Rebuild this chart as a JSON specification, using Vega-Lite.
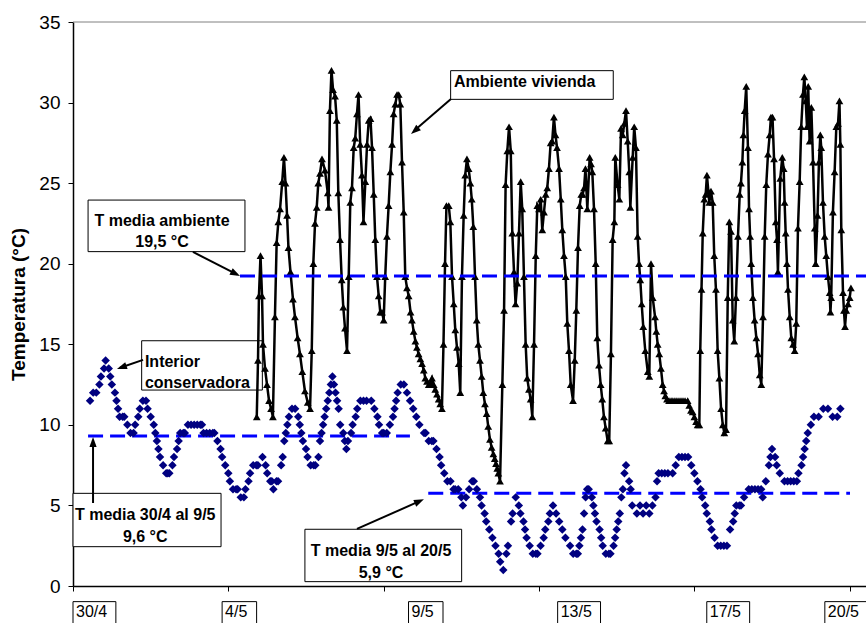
{
 "$schema": "https://vega.github.io/schema/vega-lite/v6.json",
 "width": 793,
 "height": 564,
 "autosize": {"type": "none"},
 "padding": {"left": 73, "top": 22, "right": 0, "bottom": 37},
 "background": "white",
 "config": {"view": {"stroke": null}, "font": "Liberation Sans"},
 "data": {"values": [{}]},
 "datasets": {
  "fechas": [{"fecha":"30/4","h":0},{"fecha":"4/5","h":96},{"fecha":"9/5","h":216},{"fecha":"13/5","h":312},{"fecha":"17/5","h":408},{"fecha":"20/5","h":484}],
  "medias": [{"periodo":"ambiente","desde":107.5,"hasta":510.5,"t":19.24},{"periodo":"30/4-9/5","desde":9.7,"hasta":216.9,"t":9.31},{"periodo":"9/5-20/5","desde":228.7,"hasta":500.2,"t":5.75}],
  "interior": [
{"h":11,"t":11.5},{"h":13,"t":12},{"h":15,"t":12},{"h":17,"t":12.5},{"h":18,"t":13},{"h":20,"t":13.5},{"h":21,"t":14},{"h":23,"t":13.5},{"h":24,"t":13},{"h":25,"t":12.5},{"h":27,"t":12},{"h":28,"t":11.5},{"h":29,"t":11},{"h":30,"t":10.5},{"h":32,"t":10.5},{"h":33,"t":10.5},{"h":35,"t":10},{"h":37,"t":9.5},{"h":39,"t":9.5},{"h":40,"t":10},{"h":42,"t":10.5},{"h":43,"t":11},{"h":45,"t":11.5},{"h":47,"t":11.5},{"h":48,"t":11},{"h":50,"t":10.5},{"h":52,"t":10},{"h":53,"t":9.5},{"h":54,"t":9},{"h":55,"t":8.5},{"h":56,"t":8},{"h":58,"t":7.5},{"h":60,"t":7},{"h":61,"t":7},{"h":62,"t":7},{"h":64,"t":7.5},{"h":65,"t":8},{"h":67,"t":8.5},{"h":68,"t":9},{"h":69,"t":9.5},{"h":71,"t":9.5},{"h":72,"t":9.5},{"h":74,"t":10},{"h":76,"t":10},{"h":78,"t":10},{"h":80,"t":10},{"h":82,"t":10},{"h":83,"t":10},{"h":84,"t":9.5},{"h":86,"t":9.5},{"h":88,"t":9.5},{"h":90,"t":9.5},{"h":91,"t":9.5},{"h":93,"t":9},{"h":95,"t":8.5},{"h":96,"t":8},{"h":98,"t":7.5},{"h":100,"t":7},{"h":101,"t":6.5},{"h":103,"t":6},{"h":105,"t":6},{"h":106,"t":6},{"h":108,"t":5.5},{"h":110,"t":5.5},{"h":111,"t":6},{"h":113,"t":6.5},{"h":114,"t":7},{"h":116,"t":7.5},{"h":118,"t":7.5},{"h":119,"t":7.5},{"h":122,"t":8},{"h":124,"t":7.5},{"h":125,"t":7},{"h":127,"t":6.5},{"h":128,"t":6.5},{"h":129,"t":6},{"h":131,"t":6.5},{"h":132,"t":6.5},{"h":134,"t":7.5},{"h":135,"t":8},{"h":136,"t":9},{"h":137,"t":9.5},{"h":138,"t":10},{"h":139,"t":10.5},{"h":141,"t":11},{"h":143,"t":11},{"h":145,"t":10.5},{"h":146,"t":10},{"h":147,"t":9.5},{"h":148,"t":9},{"h":150,"t":8.5},{"h":151,"t":8},{"h":153,"t":7.5},{"h":155,"t":7.5},{"h":156,"t":7.5},{"h":158,"t":8},{"h":159,"t":9},{"h":160,"t":9.5},{"h":161,"t":10},{"h":162,"t":10.5},{"h":163,"t":11},{"h":164,"t":11.5},{"h":165,"t":12},{"h":166,"t":12.5},{"h":167,"t":13},{"h":168,"t":12.5},{"h":169,"t":12},{"h":170,"t":11.5},{"h":171,"t":11},{"h":172,"t":10},{"h":174,"t":9.5},{"h":175,"t":9},{"h":176,"t":8.5},{"h":177,"t":9},{"h":179,"t":9.5},{"h":180,"t":10},{"h":182,"t":10.5},{"h":183,"t":11},{"h":185,"t":11.5},{"h":187,"t":11.5},{"h":189,"t":11.5},{"h":192,"t":11.5},{"h":194,"t":11},{"h":196,"t":10.5},{"h":197,"t":10},{"h":199,"t":9.5},{"h":200,"t":9.5},{"h":202,"t":9.5},{"h":204,"t":10},{"h":206,"t":10.5},{"h":207,"t":11},{"h":208,"t":11.5},{"h":209,"t":12},{"h":211,"t":12.5},{"h":213,"t":12.5},{"h":215,"t":12},{"h":217,"t":11.5},{"h":219,"t":11},{"h":221,"t":10.5},{"h":223,"t":10},{"h":226,"t":9.5},{"h":227,"t":9.5},{"h":229,"t":9},{"h":231,"t":9},{"h":232,"t":9},{"h":234,"t":8.5},{"h":236,"t":8},{"h":237,"t":7.5},{"h":239,"t":7},{"h":241,"t":6.5},{"h":243,"t":6.5},{"h":245,"t":6},{"h":246,"t":6},{"h":248,"t":6},{"h":250,"t":5.5},{"h":251,"t":5},{"h":253,"t":5.5},{"h":255,"t":6},{"h":257,"t":6.5},{"h":258,"t":6.5},{"h":260,"t":6},{"h":262,"t":5.5},{"h":263,"t":5},{"h":265,"t":4.5},{"h":266,"t":4},{"h":268,"t":3.5},{"h":270,"t":3},{"h":272,"t":2.5},{"h":274,"t":2},{"h":275,"t":1.5},{"h":277,"t":1},{"h":279,"t":2},{"h":280,"t":2.5},{"h":282,"t":4},{"h":283,"t":4.5},{"h":285,"t":5.5},{"h":287,"t":5},{"h":288,"t":4.5},{"h":290,"t":4},{"h":291,"t":3.5},{"h":292,"t":3},{"h":294,"t":2.5},{"h":296,"t":2},{"h":298,"t":2},{"h":299,"t":2},{"h":301,"t":2.5},{"h":303,"t":3},{"h":304,"t":3.5},{"h":306,"t":4},{"h":307,"t":4.5},{"h":309,"t":5},{"h":311,"t":4.5},{"h":313,"t":4},{"h":315,"t":3.5},{"h":317,"t":3},{"h":320,"t":2.5},{"h":322,"t":2},{"h":324,"t":2},{"h":325,"t":2},{"h":326,"t":2.5},{"h":327,"t":3},{"h":328,"t":3.5},{"h":329,"t":4.5},{"h":330,"t":5.5},{"h":331,"t":6},{"h":332,"t":6},{"h":334,"t":5.5},{"h":335,"t":5},{"h":336,"t":4.5},{"h":337,"t":4},{"h":339,"t":3.5},{"h":340,"t":3},{"h":341,"t":2.5},{"h":343,"t":2},{"h":345,"t":2},{"h":346,"t":2},{"h":348,"t":2.5},{"h":349,"t":3},{"h":350,"t":3.5},{"h":351,"t":4},{"h":352,"t":4.5},{"h":353,"t":5.5},{"h":354,"t":6},{"h":355,"t":7},{"h":356,"t":7.5},{"h":358,"t":6.5},{"h":359,"t":6},{"h":360,"t":5},{"h":363,"t":4.5},{"h":365,"t":5},{"h":367,"t":4.5},{"h":369,"t":5},{"h":371,"t":4.5},{"h":373,"t":5},{"h":375,"t":5.5},{"h":376,"t":6.5},{"h":377,"t":7},{"h":379,"t":7},{"h":381,"t":7},{"h":383,"t":7},{"h":386,"t":7},{"h":388,"t":7.5},{"h":390,"t":8},{"h":392,"t":8},{"h":394,"t":8},{"h":396,"t":8},{"h":398,"t":7.5},{"h":400,"t":7},{"h":402,"t":6.5},{"h":404,"t":6},{"h":405,"t":5.5},{"h":407,"t":5},{"h":408,"t":4.5},{"h":410,"t":4},{"h":411,"t":3.5},{"h":413,"t":3},{"h":415,"t":2.5},{"h":417,"t":2.5},{"h":419,"t":2.5},{"h":421,"t":2.5},{"h":423,"t":3.5},{"h":425,"t":4},{"h":426,"t":4.5},{"h":427,"t":5},{"h":429,"t":5},{"h":430,"t":5},{"h":432,"t":5.5},{"h":435,"t":6},{"h":437,"t":6},{"h":439,"t":6},{"h":441,"t":6},{"h":443,"t":6},{"h":444,"t":5.5},{"h":446,"t":6.5},{"h":448,"t":7.5},{"h":449,"t":8},{"h":450,"t":8.5},{"h":452,"t":8},{"h":453,"t":7.5},{"h":455,"t":7},{"h":458,"t":6.5},{"h":460,"t":6.5},{"h":462,"t":6.5},{"h":464,"t":6.5},{"h":466,"t":6.5},{"h":467,"t":7},{"h":469,"t":7.5},{"h":470,"t":8},{"h":471,"t":8.5},{"h":472,"t":9},{"h":473,"t":9.5},{"h":475,"t":10},{"h":477,"t":10.5},{"h":480,"t":10.5},{"h":483,"t":11},{"h":486,"t":11},{"h":489,"t":10.5},{"h":492,"t":10.5},{"h":494,"t":11}
  ],
  "ambiente": [
{"h":118.3,"t":10.5},{"h":119.1,"t":14},{"h":119.7,"t":18},{"h":120.7,"t":20.5},{"h":121.7,"t":18},{"h":122.3,"t":15},{"h":123.6,"t":13.5},{"h":124.9,"t":12.5},{"h":126.2,"t":11.5},{"h":127.5,"t":11},{"h":128.7,"t":10.5},
{"h":130.0,"t":16.7},{"h":131.1,"t":21.3},{"h":132.2,"t":22.6},{"h":133.3,"t":23.4},{"h":134.7,"t":25.1},{"h":135.8,"t":26.6},{"h":136.8,"t":25},{"h":137.8,"t":23},{"h":138.7,"t":21},{"h":140.0,"t":19.5},{"h":141.6,"t":17.8},{"h":142.9,"t":16.7},{"h":144.6,"t":15.4},{"h":146.1,"t":14.4},{"h":147.6,"t":13.3},{"h":149.3,"t":12.1},{"h":151.1,"t":11.4},{"h":152.6,"t":11.0},
{"h":153.7,"t":14.6},{"h":154.7,"t":20},{"h":155.8,"t":22.5},{"h":156.9,"t":23.5},{"h":157.9,"t":25},{"h":159.0,"t":25.6},{"h":160.3,"t":26.5},{"h":162.2,"t":25.8},{"h":164.0,"t":24.4},{"h":164.5,"t":23.5},{"h":165.4,"t":29.5},{"h":166.4,"t":32},{"h":167.4,"t":30.8},{"h":168.7,"t":30.4},{"h":169.8,"t":28.9},{"h":170.8,"t":24.4},{"h":171.9,"t":21.5},{"h":173.0,"t":19},{"h":174.0,"t":17.3},{"h":175.1,"t":16},{"h":176.4,"t":14.6},
{"h":177.5,"t":19.2},{"h":178.5,"t":23.8},{"h":179.6,"t":24.7},{"h":180.7,"t":27.2},{"h":181.7,"t":27.8},{"h":182.8,"t":29.3},{"h":183.8,"t":30.5},{"h":184.9,"t":27.4},{"h":186.0,"t":25.5},{"h":187.0,"t":22.6},{"h":188.2,"t":25.1},{"h":189.3,"t":27.4},{"h":190.4,"t":28.9},{"h":191.5,"t":29},{"h":192.5,"t":27.2},{"h":193.6,"t":24.3},{"h":194.6,"t":21.5},{"h":195.7,"t":19.2},{"h":196.8,"t":18},{"h":197.8,"t":17},{"h":198.9,"t":17},{"h":200.0,"t":16.5},
{"h":201.0,"t":19.2},{"h":202.1,"t":21.7},{"h":203.2,"t":23.6},{"h":204.3,"t":25.7},{"h":205.4,"t":27.4},{"h":206.4,"t":29.3},{"h":207.5,"t":29.9},{"h":208.6,"t":30.5},{"h":209.7,"t":30.5},{"h":210.7,"t":29.9},{"h":211.8,"t":26.3},{"h":212.9,"t":23.2},{"h":213.9,"t":19.2},{"h":215.0,"t":18.5},{"h":216.1,"t":18},{"h":217.3,"t":17},{"h":218.2,"t":16.5},{"h":219.3,"t":15.8},{"h":220.4,"t":15.2},{"h":221.4,"t":14.8},{"h":222.5,"t":14.4},{"h":223.6,"t":14.1},{"h":224.7,"t":13.8},{"h":225.8,"t":13.4},{"h":226.8,"t":12.9},{"h":227.9,"t":12.7},{"h":229.0,"t":12.5},{"h":230.0,"t":12.6},{"h":231.1,"t":12.9},{"h":232.2,"t":12.5},{"h":233.2,"t":12.2},{"h":234.3,"t":11.9},{"h":235.4,"t":11.6},{"h":236.4,"t":11.3},{"h":237.5,"t":11.0},
{"h":238.5,"t":15},{"h":239.5,"t":20},{"h":240.4,"t":23.6},{"h":241.9,"t":23.6},{"h":242.9,"t":22.6},{"h":244.0,"t":19.2},{"h":245.1,"t":17.5},{"h":246.1,"t":15.9},{"h":247.2,"t":14.8},{"h":248.3,"t":13.8},{"h":249.3,"t":12},
{"h":250.4,"t":19.2},{"h":251.5,"t":23},{"h":252.5,"t":25.5},{"h":253.6,"t":26.5},{"h":254.7,"t":25.9},{"h":255.8,"t":25},{"h":256.7,"t":24},{"h":257.7,"t":22.3},{"h":258.8,"t":19.2},{"h":259.9,"t":16.5},{"h":260.9,"t":15},{"h":262.0,"t":14},{"h":263.1,"t":13},{"h":264.1,"t":12},{"h":265.2,"t":11.3},{"h":266.3,"t":10.7},{"h":267.3,"t":9.9},{"h":268.4,"t":9.1},{"h":269.5,"t":8.6},{"h":270.6,"t":8.2},{"h":271.5,"t":7.9},{"h":272.3,"t":7.6},{"h":273.1,"t":7.3},{"h":273.8,"t":7},{"h":274.9,"t":6.5},
{"h":276.4,"t":12.5},{"h":277.5,"t":17.1},{"h":278.5,"t":24.9},{"h":279.6,"t":27},{"h":280.7,"t":28.5},{"h":281.8,"t":27},{"h":282.8,"t":21.9},{"h":283.9,"t":19.5},{"h":284.9,"t":17.5},{"h":286.0,"t":18.8},{"h":287.1,"t":21.9},{"h":288.2,"t":25.1},{"h":289.2,"t":23.4},{"h":290.3,"t":19.2},{"h":291.4,"t":15},{"h":292.4,"t":12.9},{"h":293.5,"t":12.2},{"h":294.6,"t":11.6},{"h":295.7,"t":10.5},
{"h":296.8,"t":15},{"h":297.9,"t":20.5},{"h":298.9,"t":23.6},{"h":300.0,"t":23.4},{"h":301.1,"t":24},{"h":302.1,"t":22.1},{"h":303.2,"t":23.2},{"h":304.3,"t":24.3},{"h":305.3,"t":24.7},{"h":306.4,"t":25.9},{"h":307.5,"t":27.5},{"h":308.5,"t":27.6},{"h":309.6,"t":29.1},{"h":310.6,"t":28},{"h":311.6,"t":27.2},{"h":312.9,"t":25.9},{"h":314.0,"t":24},{"h":315.0,"t":22.1},{"h":316.1,"t":20.5},{"h":317.2,"t":19.2},{"h":318.2,"t":16.3},{"h":319.3,"t":14.6},{"h":320.4,"t":12.5},{"h":321.9,"t":11.5},
{"h":323.0,"t":14},{"h":324.0,"t":17.1},{"h":325.1,"t":21},{"h":326.2,"t":23.6},{"h":327.2,"t":24.3},{"h":328.1,"t":24.3},{"h":329.0,"t":24.7},{"h":329.9,"t":25.9},{"h":331.1,"t":23.4},{"h":332.6,"t":26.6},{"h":333.5,"t":26.2},{"h":334.3,"t":25.7},{"h":335.4,"t":23.4},{"h":336.5,"t":20},{"h":337.5,"t":15.4},{"h":338.6,"t":13.7},{"h":339.7,"t":12.5},{"h":340.7,"t":11.6},{"h":341.8,"t":10.5},{"h":342.9,"t":9.8},{"h":344.2,"t":9},
{"h":345.2,"t":9},{"h":346.3,"t":14.4},{"h":347.4,"t":21.5},{"h":348.5,"t":22.6},{"h":349.1,"t":26.6},{"h":350.6,"t":24.9},{"h":351.7,"t":24},{"h":352.8,"t":28.4},{"h":353.9,"t":28},{"h":354.9,"t":28.7},{"h":356.0,"t":29.5},{"h":357.1,"t":27.6},{"h":358.1,"t":25.7},{"h":358.8,"t":23.5},{"h":360.3,"t":26.6},{"h":361.3,"t":28.5},{"h":362.4,"t":27.2},{"h":363.5,"t":21.7},{"h":364.4,"t":20},{"h":365.2,"t":19},{"h":366.1,"t":17.5},{"h":367.1,"t":16.1},{"h":368.4,"t":14.6},{"h":370.0,"t":13.3},{"h":371.0,"t":13},
{"h":372.1,"t":20},{"h":373.2,"t":17.9},{"h":374.7,"t":16.7},{"h":375.5,"t":15.8},{"h":376.4,"t":15},{"h":377.4,"t":14.4},{"h":378.5,"t":13.5},{"h":379.6,"t":12.5},{"h":380.5,"t":12.1},{"h":381.3,"t":11.8},{"h":382.4,"t":11.6},{"h":383.7,"t":11.5},{"h":385.0,"t":11.5},{"h":386.2,"t":11.5},{"h":387.5,"t":11.5},{"h":388.8,"t":11.5},{"h":390.1,"t":11.5},{"h":391.4,"t":11.5},{"h":392.7,"t":11.5},{"h":394.0,"t":11.5},{"h":395.7,"t":11.5},{"h":396.7,"t":11.2},{"h":397.8,"t":10.9},{"h":398.9,"t":10.8},{"h":400.0,"t":10.5},{"h":401.1,"t":10.2},{"h":402.1,"t":10},{"h":403.2,"t":10},
{"h":403.8,"t":14.6},{"h":404.6,"t":18.4},{"h":405.4,"t":21.9},{"h":406.4,"t":24},{"h":407.3,"t":24.3},{"h":408.1,"t":25.5},{"h":409.0,"t":24.5},{"h":409.6,"t":23.8},{"h":410.7,"t":24.5},{"h":411.8,"t":23.8},{"h":412.8,"t":20.5},{"h":413.9,"t":18.4},{"h":415.0,"t":14.6},{"h":416.1,"t":12.9},{"h":417.2,"t":11},{"h":418.3,"t":10},{"h":419.3,"t":9.5},
{"h":420.4,"t":9.7},{"h":421.5,"t":17.9},{"h":422.5,"t":22.6},{"h":423.6,"t":22},{"h":424.7,"t":16.5},{"h":425.7,"t":15.2},{"h":426.8,"t":17.9},{"h":428.1,"t":21.7},{"h":429.2,"t":24.3},{"h":430.0,"t":25},{"h":430.9,"t":26.3},{"h":431.6,"t":28},{"h":432.4,"t":29.5},{"h":433.4,"t":31},{"h":434.5,"t":27.2},{"h":435.2,"t":23.4},{"h":435.9,"t":21.7},{"h":436.6,"t":20},{"h":437.7,"t":17.9},{"h":438.8,"t":16.5},{"h":439.9,"t":15.4},{"h":441.0,"t":14.4},{"h":442.1,"t":13.1},{"h":443.1,"t":12.5},
{"h":444.2,"t":16.7},{"h":445.3,"t":21.7},{"h":446.3,"t":24.9},{"h":447.4,"t":26.8},{"h":448.5,"t":28},{"h":449.3,"t":29.1},{"h":450.3,"t":29.1},{"h":451.3,"t":26.5},{"h":452.4,"t":22.6},{"h":453.2,"t":21.5},{"h":453.8,"t":19.5},{"h":455.3,"t":25.3},{"h":456.6,"t":26.6},{"h":457.5,"t":25.9},{"h":458.1,"t":23.8},{"h":458.8,"t":21.9},{"h":459.6,"t":20},{"h":460.3,"t":18.4},{"h":461.4,"t":16.7},{"h":462.4,"t":15.4},{"h":463.5,"t":15},{"h":464.6,"t":14.6},
{"h":465.6,"t":16.3},{"h":466.7,"t":22.2},{"h":467.8,"t":25.1},{"h":468.8,"t":28.5},{"h":469.9,"t":30.5},{"h":470.8,"t":31.6},{"h":471.7,"t":30.1},{"h":472.5,"t":28.5},{"h":473.3,"t":31},{"h":474.2,"t":27.6},{"h":475.3,"t":29.7},{"h":476.4,"t":26.3},{"h":477.5,"t":22.2},{"h":478.1,"t":20},{"h":479.3,"t":23},{"h":480.2,"t":26.3},{"h":481.1,"t":28},{"h":481.7,"t":27.2},{"h":482.8,"t":23.8},{"h":483.9,"t":21.7},{"h":484.9,"t":20.5},{"h":486.0,"t":19.2},{"h":487.1,"t":18.2},{"h":487.6,"t":17},{"h":488.1,"t":17.9},{"h":489.2,"t":23.2},{"h":490.3,"t":25.7},{"h":491.4,"t":28.5},{"h":492.5,"t":28.7},{"h":493.4,"t":30.1},{"h":494.0,"t":27.4},{"h":494.6,"t":22.1},{"h":495.7,"t":18.2},{"h":496.3,"t":17.1},{"h":497.0,"t":16.1},{"h":497.8,"t":17.1},{"h":498.9,"t":17.5},{"h":500.0,"t":17.9},{"h":500.8,"t":18.5}
  ]
 },
 "encoding": {
  "x": {"type": "quantitative", "scale": {"domain": [0, 510.5], "nice": false, "zero": false},
   "axis": {"values": [0, 100, 200, 300, 400, 500], "labels": false, "ticks": true, "tickSize": 5, "tickColor": "black", "tickWidth": 1, "domainColor": "black", "domainWidth": 1.5, "grid": false, "title": null}},
  "y": {"type": "quantitative", "scale": {"domain": [0, 35], "nice": false, "zero": false},
   "axis": {"values": [0, 5, 10, 15, 20, 25, 30, 35], "tickSize": 5, "tickColor": "black", "tickWidth": 1, "domainColor": "black", "domainWidth": 1.5, "grid": false,
    "labelFont": "Liberation Sans", "labelFontSize": 19, "labelColor": "black", "labelPadding": 8, "labelOverlap": false, "labelFlush": false,
    "title": "Temperatura (°C)", "titleFont": "Liberation Sans", "titleFontSize": 19, "titleFontWeight": "bold", "titleColor": "black",
    "titleX": -55, "titleY": 282, "titleAngle": -90, "titleAlign": "center", "titleBaseline": "middle"}}
 },
 "layer": [
  {
   "data": {"name": "interior"},
   "mark": {"type": "point", "opacity": 0},
   "encoding": {"x": {"field": "h"}, "y": {"field": "t"}}
  },
  {
   "mark": {"type": "rule", "color": "#808080", "strokeWidth": 1},
   "encoding": {"x": null, "y": {"datum": 35}}
  },
  {
   "mark": {"type": "rect", "fill": "white", "stroke": "black", "strokeWidth": 1},
   "encoding": {"x": {"datum": 9.7}, "x2": {"datum": 110.7}, "y": {"datum": 23.95}, "y2": {"datum": 20.75}}
  },
  {
   "mark": {"type": "rect", "fill": "white", "stroke": "black", "strokeWidth": 1},
   "encoding": {"x": {"datum": 44.2}, "x2": {"datum": 121.9}, "y": {"datum": 15.22}, "y2": {"datum": 12.16}}
  },
  {
   "mark": {"type": "rect", "fill": "white", "stroke": "black", "strokeWidth": 1},
   "encoding": {"x": {"datum": 0}, "x2": {"datum": 95.3}, "y": {"datum": 5.75}, "y2": {"datum": 2.44}}
  },
  {
   "mark": {"type": "rect", "fill": "white", "stroke": "black", "strokeWidth": 1},
   "encoding": {"x": {"datum": 149.3}, "x2": {"datum": 250.2}, "y": {"datum": 3.52}, "y2": {"datum": 0.27}}
  },
  {
   "mark": {"type": "rect", "fill": "white", "stroke": "black", "strokeWidth": 1},
   "encoding": {"x": {"datum": 243.1}, "x2": {"datum": 347.8}, "y": {"datum": 31.98}, "y2": {"datum": 30.2}}
  },
  {
   "data": {"name": "fechas"},
   "transform": [{"calculate": "datum.h + 6 + 5.4 * length(datum.fecha)", "as": "fin"}],
   "mark": {"type": "rect", "fill": "white", "stroke": "black", "strokeWidth": 1, "clip": false},
   "encoding": {"x": {"field": "h"}, "x2": {"field": "fin"}, "y": {"datum": -0.97}, "y2": {"datum": -3}}
  },
  {
   "data": {"name": "fechas"},
   "mark": {"type": "text", "font": "Liberation Sans", "fontSize": 16, "color": "black", "align": "left", "baseline": "middle", "dx": 3, "clip": false},
   "encoding": {"x": {"field": "h"}, "y": {"datum": -1.6}, "text": {"field": "fecha"}}
  },
  {
   "data": {"name": "ambiente"},
   "mark": {"type": "line", "color": "black", "strokeWidth": 2.5, "point": {"shape": "triangle-up", "filled": true, "size": 60, "color": "black"}},
   "encoding": {"x": {"field": "h"}, "y": {"field": "t"}}
  },
  {
   "data": {"name": "medias"},
   "mark": {"type": "rule", "color": "#0000FF", "strokeWidth": 3, "strokeDash": [15, 7]},
   "encoding": {"x": {"field": "desde"}, "x2": {"field": "hasta"}, "y": {"field": "t"}}
  },
  {
   "data": {"name": "interior"},
   "mark": {"type": "point", "shape": "diamond", "filled": true, "size": 72, "color": "#000080", "opacity": 1},
   "encoding": {"x": {"field": "h"}, "y": {"field": "t"}}
  },
  {
   "mark": {"type": "text", "font": "Liberation Sans", "fontSize": 16, "fontWeight": "bold", "color": "black", "align": "center", "baseline": "middle", "lineHeight": 21, "text": ["T media ambiente", "19,5 °C"]},
   "encoding": {"x": {"datum": 57.3}, "y": {"datum": 22.62}}
  },
  {
   "mark": {"type": "text", "font": "Liberation Sans", "fontSize": 16, "fontWeight": "bold", "color": "black", "align": "left", "baseline": "middle", "lineHeight": 21, "text": ["Interior", "conservadora"]},
   "encoding": {"x": {"datum": 46.3}, "y": {"datum": 13.88}}
  },
  {
   "mark": {"type": "text", "font": "Liberation Sans", "fontSize": 16, "fontWeight": "bold", "color": "black", "align": "center", "baseline": "middle", "lineHeight": 22, "text": ["T media 30/4 al 9/5", "9,6 °C"]},
   "encoding": {"x": {"datum": 46.5}, "y": {"datum": 4.41}}
  },
  {
   "mark": {"type": "text", "font": "Liberation Sans", "fontSize": 16, "fontWeight": "bold", "color": "black", "align": "center", "baseline": "middle", "lineHeight": 22, "text": ["T media 9/5 al 20/5", "5,9 °C"]},
   "encoding": {"x": {"datum": 198.3}, "y": {"datum": 2.18}}
  },
  {
   "mark": {"type": "text", "font": "Liberation Sans", "fontSize": 16, "fontWeight": "bold", "color": "black", "align": "left", "baseline": "middle", "text": "Ambiente vivienda"},
   "encoding": {"x": {"datum": 245.3}, "y": {"datum": 31.3}}
  },
  {
   "mark": {"type": "rule", "color": "black", "strokeWidth": 2},
   "encoding": {"x": {"datum": 77.2}, "x2": {"datum": 105.5}, "y": {"datum": 20.73}, "y2": {"datum": 19.34}}
  },
  {
   "mark": {"type": "point", "shape": "M0,0L-0.9,2.5L0.9,2.5Z", "size": 64, "filled": true, "color": "black", "opacity": 1, "angle": 117},
   "encoding": {"x": {"datum": 107.5}, "y": {"datum": 19.24}}
  },
  {
   "mark": {"type": "rule", "color": "black", "strokeWidth": 2},
   "encoding": {"x": {"datum": 45.1}, "x2": {"datum": 30.3}, "y": {"datum": 14.03}, "y2": {"datum": 13.54}}
  },
  {
   "mark": {"type": "point", "shape": "M0,0L-0.9,2.5L0.9,2.5Z", "size": 64, "filled": true, "color": "black", "opacity": 1, "angle": 251},
   "encoding": {"x": {"datum": 28.3}, "y": {"datum": 13.47}}
  },
  {
   "mark": {"type": "rule", "color": "black", "strokeWidth": 2},
   "encoding": {"x": {"datum": 12.9}, "y": {"datum": 5.15}, "y2": {"datum": 8.9}}
  },
  {
   "mark": {"type": "point", "shape": "M0,0L-0.9,2.5L0.9,2.5Z", "size": 64, "filled": true, "color": "black", "opacity": 1, "angle": 0},
   "encoding": {"x": {"datum": 12.9}, "y": {"datum": 9.25}}
  },
  {
   "mark": {"type": "rule", "color": "black", "strokeWidth": 2},
   "encoding": {"x": {"datum": 182.8}, "x2": {"datum": 223.5}, "y": {"datum": 3.54}, "y2": {"datum": 5.28}}
  },
  {
   "mark": {"type": "point", "shape": "M0,0L-0.9,2.5L0.9,2.5Z", "size": 64, "filled": true, "color": "black", "opacity": 1, "angle": 66},
   "encoding": {"x": {"datum": 225.9}, "y": {"datum": 5.38}}
  },
  {
   "mark": {"type": "rule", "color": "black", "strokeWidth": 2},
   "encoding": {"x": {"datum": 243.3}, "x2": {"datum": 219.6}, "y": {"datum": 30.22}, "y2": {"datum": 28.25}}
  },
  {
   "mark": {"type": "point", "shape": "M0,0L-0.9,2.5L0.9,2.5Z", "size": 64, "filled": true, "color": "black", "opacity": 1, "angle": 229},
   "encoding": {"x": {"datum": 217.6}, "y": {"datum": 28.05}}
  }
 ]
}
